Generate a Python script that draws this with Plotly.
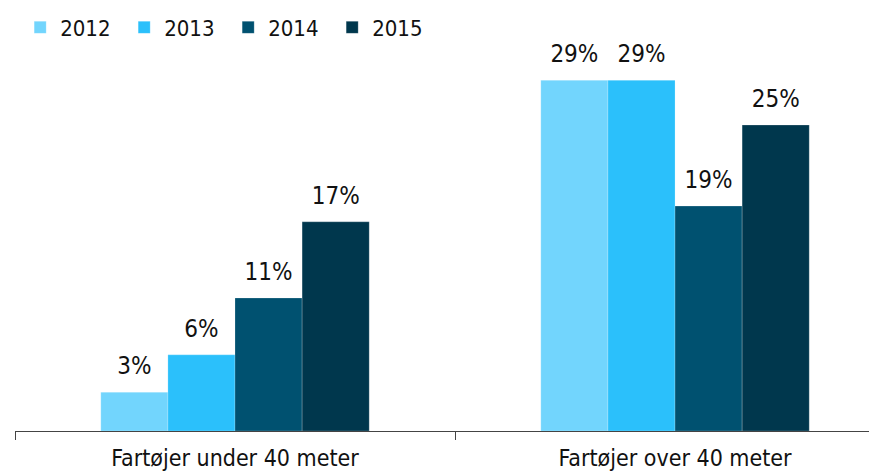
import plotly.graph_objects as go

categories = ["Fartøjer under 40 meter", "Fartøjer over 40 meter"]
years = ["2012", "2013", "2014", "2015"]
values = {
    "2012": [3.2, 29.0],
    "2013": [6.3, 29.0],
    "2014": [11.0, 18.6],
    "2015": [17.3, 25.3],
}
labels = {
    "2012": ["3%", "29%"],
    "2013": ["6%", "29%"],
    "2014": ["11%", "19%"],
    "2015": ["17%", "25%"],
}
colors = ["#72D5FD", "#2BC0FB", "#005170", "#00374D"]

font = "DejaVu Sans Condensed, Liberation Sans Narrow, sans-serif"

fig = go.Figure()
for yr, col in zip(years, colors):
    fig.add_trace(go.Bar(
        x=categories, y=values[yr], name=yr,
        marker=dict(color=col, line=dict(width=0.5, color="rgba(255,255,255,0.4)")),
    ))

# value labels: invisible markers so the text sits a bit above the bar tops
for yr in years:
    fig.add_trace(go.Scatter(
        x=categories, y=values[yr], mode="markers+text", showlegend=False,
        text=labels[yr], textposition="top center", cliponaxis=False,
        marker=dict(size=18, opacity=0),
        textfont=dict(size=24, color="#111111", family=font),
        hoverinfo="skip",
    ))

fig.update_layout(
    width=869, height=466,
    barmode="group", bargap=0.39, bargroupgap=0,
    scattermode="group", scattergap=0.39,
    margin=dict(l=7, r=0, t=30, b=43, autoexpand=False),
    plot_bgcolor="white", paper_bgcolor="white",
    font=dict(family=font, size=21, color="#111111"),
    legend=dict(orientation="h", x=0.006, y=1.08, xanchor="left", yanchor="top",
                font=dict(size=22), entrywidth=59, itemwidth=30),
    xaxis=dict(range=[-0.5, 1.459], showline=True, linecolor="#444444", linewidth=1,
               ticks="outside", tickson="boundaries", ticklen=8, tickcolor="#444444",
               tickfont=dict(size=23), ticklabelstandoff=6, automargin=False),
    yaxis=dict(range=[0, 32.5], visible=False),
)

fig.write_html("out.html")
